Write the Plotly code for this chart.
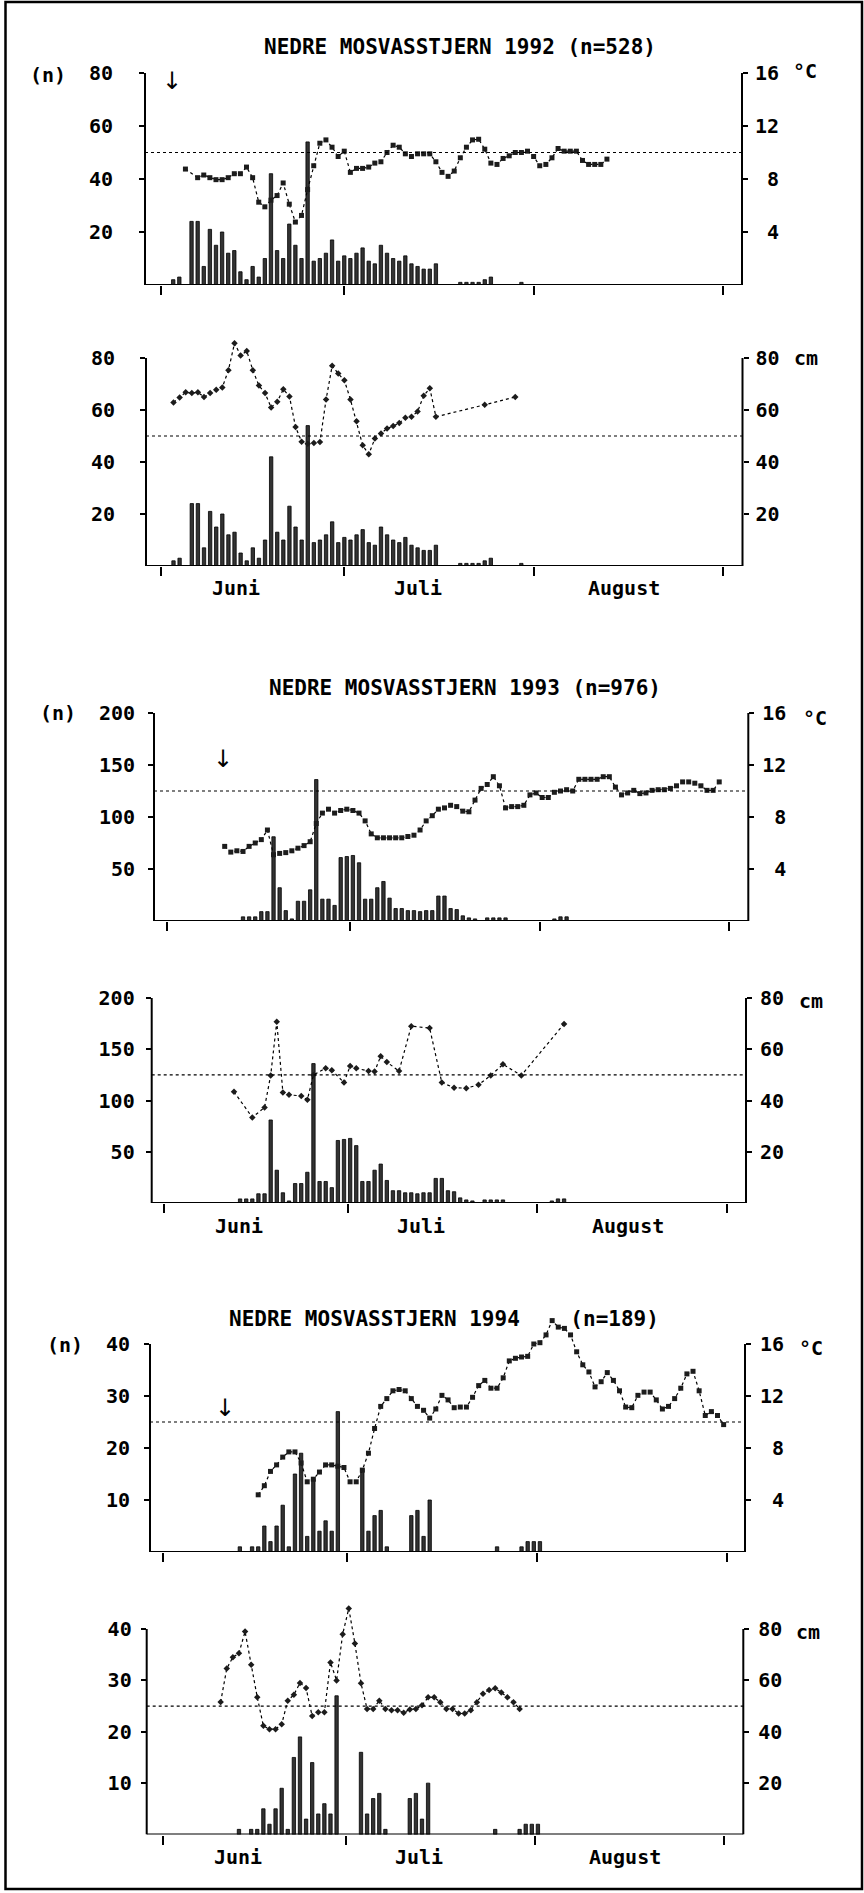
import plotly.graph_objects as go

W, H = 864, 1893
FONT = "DejaVu Sans Mono"

# ======================= DATA =======================
# day number: 0 = 1 June, 30 = 1 July, 61 = 1 August, 92 = 1 September
MONTH_BOUNDS = [0, 30, 61, 92]
MONTH_NAMES = ["Juni", "Juli", "August"]
MONTH_LABEL_DAY = [12.3, 42.0, 75.8]

# ---- 1992 (n=528) ----
catch92_day = [2, 3, 5, 6, 7, 8, 9, 10, 11, 12, 13, 14, 15, 16, 17, 18, 19, 20, 21, 22,
               23, 24, 25, 26, 27, 28, 29, 30, 31, 32, 33, 34, 35, 36, 37, 38, 39, 40, 41, 42,
               43, 44, 45, 49, 50, 51, 52, 53, 54, 59]
catch92_n = [2, 3, 24, 24, 7, 21, 15, 20, 12, 13, 5, 2, 7, 3, 10, 42, 13, 10, 23, 15,
             10, 54, 9, 10, 12, 17, 9, 11, 10, 12, 14, 9, 8, 15, 12, 10, 9, 11, 8, 7,
             6, 6, 8, 1, 1, 1, 1, 2, 3, 1]
temp92_day = [4, 6, 7, 8, 9, 10, 11, 12, 13, 14, 15, 16, 17, 18, 19, 20, 21, 22, 23, 24,
              25, 26, 27, 28, 29, 30, 31, 32, 33, 34, 35, 36, 37, 38, 39, 40, 41, 42, 43, 44,
              45, 46, 47, 48, 49, 50, 51, 52, 53, 54, 55, 56, 57, 58, 59, 60, 61, 62, 63, 64,
              65, 66, 67, 68, 69, 70, 71, 72, 73]
temp92_c = [8.75, 8.1, 8.3, 8.1, 7.95, 7.95, 8.1, 8.4, 8.4, 8.9, 8.1, 6.25, 5.9, 6.4, 6.75,
            7.7, 6.1, 4.75, 5.25, 7.2, 9.0, 10.7, 10.95, 10.4, 9.7, 10.1, 8.5, 8.8, 8.8, 8.9,
            9.2, 9.3, 10.0, 10.55, 10.4, 9.9, 9.7, 9.9, 9.9, 9.9, 9.3, 8.5, 8.2, 8.6, 9.6,
            10.4, 10.95, 11.0, 10.25, 9.2, 9.1, 9.55, 9.75, 10.0, 10.0, 10.1, 9.7, 9.0, 9.1, 9.6,
            10.3, 10.1, 10.1, 10.1, 9.4, 9.1, 9.1, 9.1, 9.5]
level92_day = [2, 3, 4, 5, 6, 7, 8, 9, 10, 11, 12, 13, 14, 15, 16, 17, 18, 19, 20, 21,
               22, 23, 24, 25, 26, 27, 28, 29, 30, 31, 32, 33, 34, 35, 36, 37, 38, 39, 40, 41,
               42, 43, 44, 45, 53, 58]
level92_cm = [62.9, 64.8, 66.8, 66.5, 66.8, 65.0, 66.5, 67.8, 68.7, 75.3, 85.7, 81.0, 82.7,
              75.3, 69.4, 66.5, 61.0, 63.2, 68.0, 65.2, 53.5, 47.8, 47.0, 47.3, 47.7, 64.0,
              77.0, 74.0, 71.4, 64.0, 55.7, 46.4, 43.0, 49.0, 51.0, 52.9, 53.8, 55.0, 57.0,
              57.4, 59.4, 65.5, 68.4, 57.4, 62.0, 65.0]

# ---- 1993 (n=976) ----
catch93_day = [12, 13, 14, 15, 16, 17, 18, 19, 20, 21, 22, 23, 24, 25, 26, 27, 28, 29, 30, 31,
               32, 33, 34, 35, 36, 37, 38, 39, 40, 41, 42, 43, 44, 45, 46, 47, 48, 49, 50, 52,
               53, 54, 55, 63, 64, 65]
catch93_n = [4, 4, 4, 9, 9, 81, 32, 10, 2, 19, 19, 30, 136, 21, 21, 15, 61, 62, 63, 56,
             21, 21, 32, 38, 22, 12, 12, 10, 10, 9, 10, 10, 24, 24, 12, 11, 5, 3, 2, 3,
             3, 3, 3, 2, 4, 4]
temp93_day = [9, 10, 11, 12, 13, 14, 15, 16, 17, 18, 19, 20, 21, 22, 23, 24, 25, 26, 27, 28,
              29, 30, 31, 32, 33, 34, 35, 36, 37, 38, 39, 40, 41, 42, 43, 44, 45, 46, 47, 48,
              49, 50, 51, 52, 53, 54, 55, 56, 57, 58, 59, 60, 61, 62, 63, 64, 65, 66, 67, 68,
              69, 70, 71, 72, 73, 74, 75, 76, 77, 78, 79, 80, 81, 82, 83, 84, 85, 86, 87, 88,
              89, 90]
temp93_c = [5.74, 5.3, 5.4, 5.35, 5.74, 6.0, 6.26, 7.0, 5.1, 5.2, 5.26, 5.4, 5.6, 5.8, 6.1,
            7.5, 8.3, 8.6, 8.3, 8.5, 8.6, 8.5, 8.3, 7.7, 6.7, 6.4, 6.4, 6.4, 6.4, 6.4,
            6.5, 6.6, 7.0, 7.7, 8.1, 8.6, 8.7, 8.9, 8.8, 8.45, 8.4, 9.3, 10.2, 10.5, 11.1,
            10.4, 8.7, 8.8, 8.8, 8.9, 9.7, 9.85, 9.5, 9.5, 9.9, 10.0, 10.1, 10.0, 10.9, 10.9,
            10.9, 10.9, 11.1, 11.1, 10.3, 9.7, 9.85, 10.05, 9.8, 9.85, 10.05, 10.1, 10.1, 10.2,
            10.4, 10.7, 10.7, 10.6, 10.4, 10.05, 10.05, 10.7]
level93_day = [11, 14, 16, 17, 18, 19, 20, 22, 23, 24, 26, 27, 29, 30, 31, 33, 34, 35, 36, 38,
               40, 43, 45, 47, 49, 51, 53, 55, 58, 65]
level93_cm = [43.4, 33.4, 37.3, 49.8, 70.7, 43.1, 42.2, 41.8, 40.3, 50.0, 52.6, 51.8, 47.0,
              53.5, 52.6, 51.5, 51.3, 57.3, 55.0, 51.5, 69.0, 68.3, 47.0, 45.0, 44.8, 46.1,
              49.8, 54.1, 49.8, 69.9]

# ---- 1994 (n=189) ----
catch94_day = [12, 14, 15, 16, 17, 18, 19, 20, 21, 22, 23, 24, 25, 26, 27, 28, 32, 33, 34, 35,
               36, 40, 41, 42, 43, 54, 58, 59, 60, 61]
catch94_n = [1, 1, 1, 5, 2, 5, 9, 1, 15, 19, 3, 14, 4, 6, 4, 27, 16, 4, 7, 8,
             1, 7, 8, 3, 10, 1, 1, 2, 2, 2]
temp94_day = [15, 16, 17, 18, 19, 20, 21, 22, 23, 24, 25, 26, 27, 28, 29, 30, 31, 32, 33, 34,
              35, 36, 37, 38, 39, 40, 41, 42, 43, 44, 45, 46, 47, 48, 49, 50, 51, 52, 53, 54,
              55, 56, 57, 58, 59, 60, 61, 62, 63, 64, 65, 66, 67, 68, 69, 70, 71, 72, 73, 74,
              75, 76, 77, 78, 79, 80, 81, 82, 83, 84, 85, 86, 87, 88, 89, 90, 91]
temp94_c = [4.4, 5.1, 6.2, 6.7, 7.3, 7.7, 7.7, 6.85, 5.4, 5.6, 6.15, 6.7, 6.7, 6.6, 6.5,
            5.4, 5.4, 6.3, 7.6, 9.5, 11.2, 11.8, 12.4, 12.5, 12.4, 11.8, 11.2, 10.9, 10.3, 11.0,
            12.05, 11.7, 11.1, 11.15, 11.15, 11.9, 12.8, 13.2, 12.6, 12.6, 13.4, 14.7, 14.9, 15.0,
            15.05, 16.0, 16.1, 16.7, 17.8, 17.3, 17.2, 16.7, 15.4, 14.4, 13.85, 12.7, 13.1, 13.8,
            13.2, 12.4, 11.15, 11.1, 12.05, 12.3, 12.3, 11.7, 11.0, 11.2, 11.8, 12.6, 13.7, 13.9,
            12.4, 10.5, 10.8, 10.5, 9.8]
level94_day = [9, 10, 11, 12, 13, 14, 15, 16, 17, 18, 19, 20, 21, 22, 23, 24, 25, 26, 27, 28,
               29, 30, 31, 32, 33, 34, 35, 36, 37, 38, 39, 40, 41, 42, 43, 44, 45, 46, 47, 48,
               49, 50, 51, 52, 53, 54, 55, 56, 57, 58]
level94_cm = [51.6, 64.6, 69.0, 70.6, 79.0, 66.1, 53.4, 42.3, 41.0, 41.0, 42.9, 52.1, 54.4,
              59.0, 57.0, 46.1, 47.6, 47.6, 67.0, 60.0, 78.0, 88.0, 74.4, 58.9, 48.9, 48.9,
              52.1, 48.9, 48.4, 48.4, 47.4, 48.7, 48.9, 50.3, 53.4, 53.4, 51.5, 48.9, 48.9,
              47.1, 47.1, 48.4, 51.5, 54.8, 56.3, 56.9, 55.3, 53.4, 51.5, 48.9]

TITLES = ["NEDRE MOSVASSTJERN 1992 (n=528)",
          "NEDRE MOSVASSTJERN 1993 (n=976)",
          "NEDRE MOSVASSTJERN 1994    (n=189)"]
REF_TEMP = 10      # °C reference line
REF_LEVEL = 50     # cm reference line
ARROW = [(1.85, 77), (9.05, 156), (10.1, 27.7)]   # ice-off arrow (day, n)

# ======================= LAYOUT GEOMETRY (pixels) =======================
panels = [
    dict(left=145, right=742, top=73, bottom=285, top_ext=52, tj=161, ts=723, s=0.0,
         nmax=80, lt=[20, 40, 60, 80], kind="temp", fac=16 / 80, lgap=22, rgap=3,
         cd=catch92_day, cn=catch92_n, ld=temp92_day, lv=temp92_c),
    dict(left=146, right=742.5, top=358, bottom=566, top_ext=330, tj=161.3, ts=722.7, s=0.0,
         nmax=80, lt=[20, 40, 60, 80], kind="level", fac=80 / 80, lgap=21, rgap=3,
         cd=catch92_day, cn=catch92_n, ld=level92_day, lv=level92_cm),
    dict(left=154, right=748.3, top=713, bottom=921, top_ext=700, tj=167.3, ts=729, s=0.4,
         nmax=200, lt=[50, 100, 150, 200], kind="temp", fac=16 / 200, lgap=9, rgap=4,
         cd=catch93_day, cn=catch93_n, ld=temp93_day, lv=temp93_c),
    dict(left=151.7, right=746, top=998, bottom=1203, top_ext=985, tj=164.3, ts=726.7, s=0.4,
         nmax=200, lt=[50, 100, 150, 200], kind="level", fac=80 / 200, lgap=7, rgap=4,
         cd=catch93_day, cn=catch93_n, ld=level93_day, lv=level93_cm),
    dict(left=150, right=745, top=1344, bottom=1552, top_ext=1300, tj=163.3, ts=726.7, s=0.5,
         nmax=40, lt=[10, 20, 30, 40], kind="temp", fac=16 / 40, lgap=10, rgap=5,
         cd=catch94_day, cn=catch94_n, ld=temp94_day, lv=temp94_c),
    dict(left=146.7, right=743.3, top=1629, bottom=1834.5, top_ext=1595, tj=162.7, ts=724, s=0.5,
         nmax=40, lt=[10, 20, 30, 40], kind="level", fac=80 / 40, lgap=5, rgap=5,
         cd=catch94_day, cn=catch94_n, ld=level94_day, lv=level94_cm),
]
TITLE_POS = [(460, 47), (465, 688), (444, 1319)]
NLABEL_POS = [(47.5, 75), (57.5, 713), (64.5, 1345)]
UNIT_POS = [(805, 71), (806, 358), (815, 718), (811, 1001), (811, 1348), (808, 1632)]
MONTH_Y = {1: 588, 3: 1226, 5: 1857}


def px(x):
    return x / W


def py(y):
    return 1 - y / H


def sfx(n):
    return "" if n == 1 else str(n)


tick_font = dict(family=FONT, size=20, color="black", weight="bold")

fig = go.Figure()
layout = dict(width=W, height=H, margin=dict(l=0, r=0, t=0, b=0),
              paper_bgcolor="white", plot_bgcolor="rgba(0,0,0,0)",
              showlegend=False, barmode="overlay", shapes=[], annotations=[])

for i, p in enumerate(panels):
    xn, yl, yr = i + 1, 2 * i + 1, 2 * i + 2
    xid, ylid, yrid = "x" + sfx(xn), "y" + sfx(yl), "y" + sfx(yr)
    ppd = (p["ts"] - p["tj"]) / 92.0
    xr = [(p["left"] - p["tj"]) / ppd - p["s"], (p["right"] - p["tj"]) / ppd - p["s"]]
    ytop = p["nmax"] * (p["bottom"] - p["top_ext"]) / (p["bottom"] - p["top"])

    # bars (catch per day)
    fig.add_trace(go.Bar(x=p["cd"], y=p["cn"], xaxis=xid, yaxis=ylid, width=0.55,
                         marker=dict(color="#333333", line=dict(color="#000000", width=0.8))))
    # temperature / water level
    sym = "square" if p["kind"] == "temp" else "diamond"
    fig.add_trace(go.Scatter(x=p["ld"], y=p["lv"], xaxis=xid, yaxis=yrid, mode="lines+markers",
                             cliponaxis=False,
                             line=dict(color="#000000", width=1.2, dash="dot"),
                             marker=dict(symbol=sym, size=5, color="#1c1c1c")))

    layout["xaxis" + sfx(xn)] = dict(
        domain=[px(p["left"]), px(p["right"])], range=xr, anchor=ylid,
        tickmode="array", tickvals=[b - p["s"] for b in MONTH_BOUNDS],
        showticklabels=False, ticks="outside", ticklen=9, tickwidth=2, tickcolor="black",
        showgrid=False, zeroline=False, showline=False, fixedrange=True)
    layout["yaxis" + sfx(yl)] = dict(
        domain=[py(p["bottom"]), py(p["top_ext"])], range=[0, ytop], anchor=xid, side="left",
        tickmode="array", tickvals=p["lt"], ticks="outside", ticklen=5, tickwidth=2,
        tickcolor="black", tickfont=tick_font, ticklabelstandoff=p["lgap"],
        showgrid=False, zeroline=False, showline=False, fixedrange=True)
    if p["kind"] == "temp":
        rv = [4, 8, 12, 16]
        rt = [" 4", " 8", "12", "16"]
        unit = "°C"
        ref = REF_TEMP
    else:
        rv = [20, 40, 60, 80]
        rt = ["20", "40", "60", "80"]
        unit = "cm"
        ref = REF_LEVEL
    layout["yaxis" + sfx(yr)] = dict(
        overlaying=ylid, side="right", anchor=xid, range=[0, ytop * p["fac"]],
        tickmode="array", tickvals=rv, ticktext=rt, ticks="outside", ticklen=5, tickwidth=2,
        tickcolor="black", tickfont=tick_font, ticklabelstandoff=p["rgap"],
        showgrid=False, zeroline=False, showline=False, fixedrange=True)

    xdom = xid + " domain"
    ln = dict(color="black", width=2)
    layout["shapes"] += [
        dict(type="line", xref=xdom, yref=ylid, x0=0, x1=0, y0=0, y1=p["nmax"], line=ln),
        dict(type="line", xref=xdom, yref=ylid, x0=1, x1=1, y0=0, y1=p["nmax"], line=ln),
        dict(type="line", xref=xdom, yref=ylid, x0=0, x1=1, y0=0, y1=0, line=ln),
        dict(type="line", xref=xdom, yref=yrid, x0=0, x1=1, y0=ref, y1=ref,
             line=dict(color="black", width=1.2, dash="dot")),
    ]
    ux, uy = UNIT_POS[i]
    layout["annotations"].append(dict(text=unit, xref="paper", yref="paper", x=px(ux), y=py(uy),
                                      showarrow=False, font=tick_font, xanchor="center",
                                      yanchor="middle"))
    if i % 2 == 0:
        k = i // 2
        tx, ty = TITLE_POS[k]
        layout["annotations"].append(dict(text=TITLES[k].replace(" ", "&nbsp;"), xref="paper",
                                          yref="paper", x=px(tx), y=py(ty), showarrow=False,
                                          font=dict(family=FONT, size=21, color="black",
                                                    weight="bold"),
                                          xanchor="center", yanchor="middle"))
        nx, ny = NLABEL_POS[k]
        layout["annotations"].append(dict(text="(n)", xref="paper", yref="paper", x=px(nx),
                                          y=py(ny), showarrow=False, font=tick_font,
                                          xanchor="center", yanchor="middle"))
        ax_, ay_ = ARROW[k]
        layout["annotations"].append(dict(text="↓", xref=xid, yref=ylid, x=ax_ - p["s"], y=ay_,
                                          showarrow=False,
                                          font=dict(family="DejaVu Sans", size=24, color="black"),
                                          xanchor="center", yanchor="middle"))
    else:
        for name, d in zip(MONTH_NAMES, MONTH_LABEL_DAY):
            layout["annotations"].append(dict(text=name, xref=xid, yref="paper", x=d - p["s"],
                                              y=py(MONTH_Y[i]), showarrow=False,
                                              font=dict(family=FONT, size=20, color="black",
                                                        weight="bold"),
                                              xanchor="center", yanchor="middle"))

# outer frame
layout["shapes"].append(dict(type="rect", xref="paper", yref="paper",
                             x0=px(5.5), x1=px(862), y0=py(1889), y1=py(2),
                             line=dict(color="black", width=2.5)))

fig.update_layout(**layout)
fig.write_html("out.html")
